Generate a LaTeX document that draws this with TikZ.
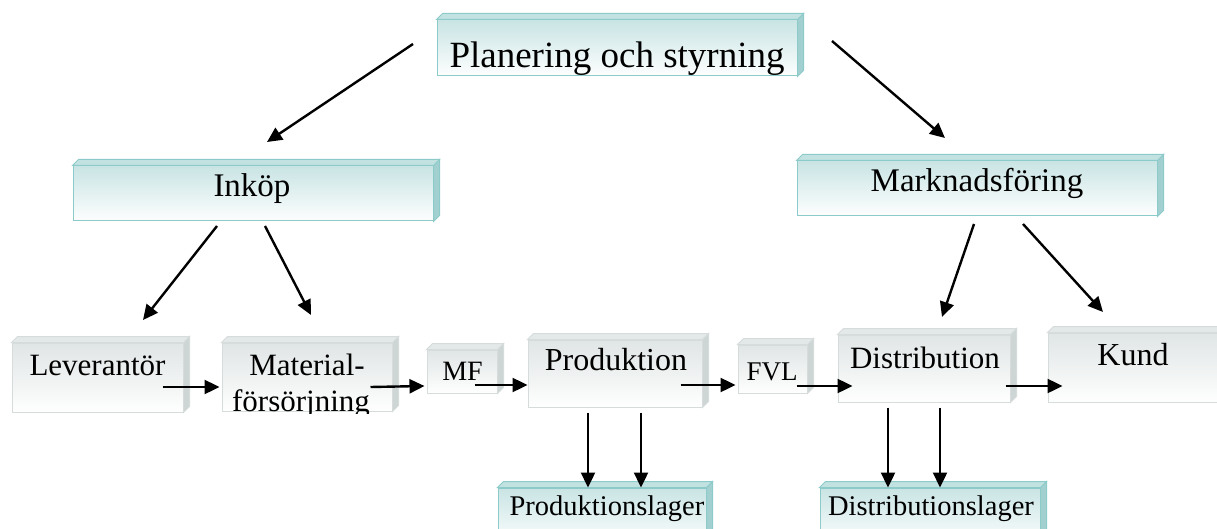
\documentclass[tikz,border=0pt]{standalone}
\usepackage{fontspec}
\setmainfont{Liberation Serif}
\usetikzlibrary{arrows.meta}
\definecolor{tealB}{HTML}{8DCACA}
\definecolor{tealTop}{HTML}{C9E4E4}
\definecolor{tealSide}{HTML}{A2D0D0}
\definecolor{tealLid}{HTML}{C2E1E1}
\definecolor{greyB}{HTML}{D6DCDC}
\definecolor{greyTop}{HTML}{E0E5E5}
\definecolor{greySide}{HTML}{CED5D5}
\definecolor{greyLid}{HTML}{E3E8E8}
\tikzset{
  tbox/.style={draw=tealB, line width=1pt, top color=tealTop, bottom color=white!97!tealTop, inner sep=0pt},
  gbox/.style={draw=greyB, line width=1pt, top color=greyTop, bottom color=white!98!greyTop, inner sep=0pt},
  lbl/.style={anchor=base, inner sep=0pt, text=black},
  arr/.style={line width=2.4pt, -{Triangle[length=15pt,width=14pt]}},
}
\newcommand\boxdepth[2]{%
  \filldraw[fill=#2Side, draw=#2B, line width=1pt] (#1.north east) -- ++(6,6) -- ([shift={(6,6)}]#1.south east) -- (#1.south east) -- cycle;
  \filldraw[fill=#2Lid, draw=#2B, line width=1pt] (#1.north west) -- ++(6,6) -- ([shift={(6,6)}]#1.north east) -- (#1.north east) -- cycle;
}
\newcommand\fs[1]{\fontsize{#1}{#1}\selectfont}
\begin{document}
\begin{tikzpicture}[x=1pt,y=1pt]
\clip (0,0) rectangle (1217,528);
\fill[white] (0,0) rectangle (1217,528);
% boxes
\node[tbox, minimum width=360, minimum height=56] (plan) at (617,480) {};
\boxdepth{plan}{teal}
\node[tbox, minimum width=360, minimum height=55] (ink) at (253,334.5) {};
\boxdepth{ink}{teal}
\node[tbox, minimum width=360, minimum height=55] (mkt) at (977,339.5) {};
\boxdepth{mkt}{teal}
\node[gbox, minimum width=171, minimum height=69] (lev) at (97.5,150.5) {};
\boxdepth{lev}{grey}
\node[gbox, minimum width=170, minimum height=68] (mat) at (307,151) {};
\boxdepth{mat}{grey}
\node[gbox, minimum width=70, minimum height=43] (mf) at (462,156.5) {};
\boxdepth{mf}{grey}
\node[gbox, minimum width=174, minimum height=67] (prod) at (615,154.5) {};
\boxdepth{prod}{grey}
\node[gbox, minimum width=69, minimum height=48] (fvl) at (772.5,159) {};
\boxdepth{fvl}{grey}
\node[gbox, minimum width=172, minimum height=67] (dist) at (924,159.5) {};
\boxdepth{dist}{grey}
\node[gbox, minimum width=182, minimum height=69] (kund) at (1139,160.5) {};
\boxdepth{kund}{grey}
\node[tbox, minimum width=208, minimum height=57] (plag) at (602,11.5) {};
\boxdepth{plag}{teal}
\node[tbox, minimum width=220, minimum height=57] (dlag) at (930,11.5) {};
\boxdepth{dlag}{teal}
% texts
\node[lbl, font=\fs{37}] (tplan) at (617,460) {Planering och styrning};
\node[lbl, font=\fs{33}] (tink) at (252,331) {Inköp};
\node[lbl, font=\fs{33}] (tmkt) at (977,336) {Marknadsföring};
\node[lbl, font=\fs{31}] (tlev) at (97.5,153) {Leverantör};
\begin{scope}
  \clip (215,115) rectangle (400,200);
  \node[lbl, font=\fs{31}] (tmat1) at (307,153) {Material-};
  \node[lbl, font=\fs{31}] (tmat2) at (301,117) {försörjning};
\end{scope}
\node[lbl, font=\fs{28}] (tmf) at (462.5,148) {MF};
\node[lbl, font=\fs{32}] (tprod) at (616,158) {Produktion};
\node[lbl, font=\fs{27}] (tfvl) at (772,148) {FVL};
\node[lbl, font=\fs{31}] (tdist) at (925,160) {Distribution};
\node[lbl, font=\fs{32}] (tkund) at (1133,163) {Kund};
\node[lbl, font=\fs{28.5}] (tplag) at (607,13) {Produktionslager};
\node[lbl, font=\fs{28.5}] (tdlag) at (931,13) {Distributionslager};
% arrow end points
\coordinate (a1s) at (413,484); \coordinate (a1e) at (267,386);
\coordinate (a2s) at (832,487); \coordinate (a2e) at (945,390);
\coordinate (a3s) at (217,302); \coordinate (a3e) at (143,208);
\coordinate (a4s) at (265,302); \coordinate (a4e) at (311,213);
\coordinate (a5s) at (974,304); \coordinate (a5e) at (942,211);
\coordinate (a6s) at (1023,304); \coordinate (a6e) at (1103,216);
\draw[arr] (a1s) -- (a1e);
\draw[arr] (a2s) -- (a2e);
\draw[arr] (a3s) -- (a3e);
\draw[arr] (a4s) -- (a4e);
\draw[arr] (a5s) -- (a5e);
\draw[arr] (a6s) -- (a6e);
% horizontal flow
\draw[arr] ([shift={(-21,-9.5)}]lev.east) -- ([shift={(-2,-10)}]mat.west);
\draw[arr] ([shift={(-22,-10)}]mat.east) -- ([shift={(-2,-14.5)}]mf.west);
\draw[arr] ([shift={(-23,-13.5)}]mf.east) -- ([shift={(0,-11.5)}]prod.west);
\draw[arr] ([shift={(-22,-11.5)}]prod.east) -- ([shift={(-2,-16)}]fvl.west);
\draw[arr] ([shift={(-11,-17)}]fvl.east) -- ([shift={(15,-17.5)}]dist.west);
\draw[arr] ([shift={(-5,-17.5)}]dist.east) -- ([shift={(15,-18.5)}]kund.west);
% downward
\draw[arr] ([shift={(-27,-5)}]prod.south) -- ([shift={(-14,0)}]plag.north);
\draw[arr] ([shift={(26,-5)}]prod.south) -- ([shift={(39,0)}]plag.north);
\draw[arr] ([shift={(-36,-5)}]dist.south) -- ([shift={(-42,0)}]dlag.north);
\draw[arr] ([shift={(16,-5)}]dist.south) -- ([shift={(10,0)}]dlag.north);
\end{tikzpicture}
\end{document}
